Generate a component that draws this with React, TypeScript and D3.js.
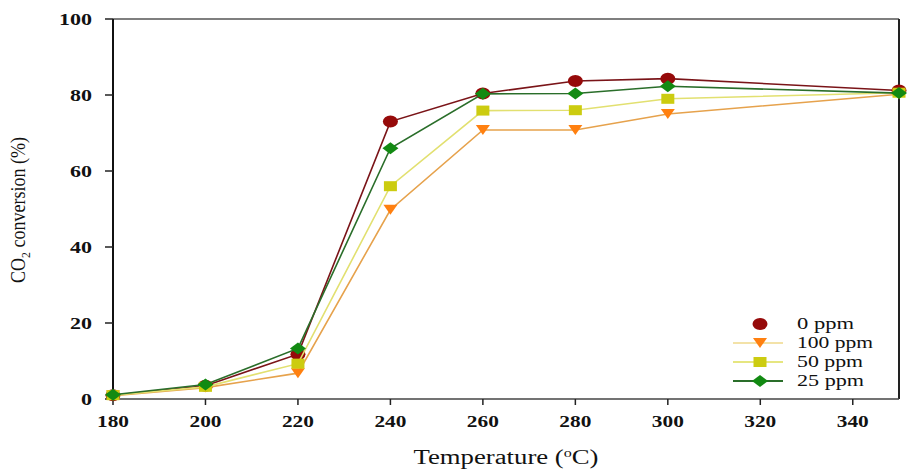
import React from "react";
import * as d3 from "d3";

const temps = [180, 200, 220, 240, 260, 280, 300, 350];
const seriesNames = ["0 ppm", "100 ppm", "50 ppm", "25 ppm"];
const ppm0 = [1, 3.5, 11.8, 73, 80.4, 83.7, 84.3, 81.2];
const ppm100 = [0.9, 3.0, 6.8, 49.8, 70.8, 70.8, 75, 80.2];
const ppm50 = [1, 3.2, 9.3, 56, 75.9, 76, 79, 80.6];
const ppm25 = [1.1, 3.8, 13.3, 66, 80.3, 80.4, 82.3, 80.5];
const xTicks = [180, 200, 220, 240, 260, 280, 300, 320, 340];
const yTicks = [0, 20, 40, 60, 80, 100];

const W = 916, H = 472;
const L = 113, R = 899, T = 19, B = 399;
const FONT = "'Liberation Serif', 'Times New Roman', Times, serif";

const styles = [
  { line: "#7a1418", fill: "#960a0a", shape: "circle", legendLine: null },
  { line: "#e6a24c", fill: "#ff8010", shape: "tri", legendLine: "#f3e2a8" },
  { line: "#e2e070", fill: "#cccc10", shape: "square", legendLine: "#e6e680" },
  { line: "#2a6e2a", fill: "#128a12", shape: "diamond", legendLine: "#2a6e2a" },
];

function Marker({ shape, x, y, fill }: { shape: string; x: number; y: number; fill: string }) {
  if (shape === "circle") return <ellipse cx={x} cy={y} rx={7.5} ry={6} fill={fill} />;
  if (shape === "square") return <rect x={x - 6.5} y={y - 5} width={13} height={10} fill={fill} />;
  if (shape === "tri")
    return <path d={`M${x - 7},${y - 5}L${x + 7},${y - 5}L${x},${y + 5}Z`} fill={fill} />;
  return <path d={`M${x},${y - 6}L${x + 8},${y}L${x},${y + 6}L${x - 8},${y}Z`} fill={fill} />;
}

export default function App() {
  const x = d3.scaleLinear().domain([180, 350]).range([L, R]);
  const y = d3.scaleLinear().domain([0, 100]).range([B, T]);
  const data = [ppm0, ppm100, ppm50, ppm25];
  const line = d3
    .line<number>()
    .x((_, i) => x(temps[i]))
    .y((d) => y(d));
  const legendYs = [324, 343, 362, 381];
  const legendLen = [57, 76, 66, 67];
  return (
    <svg width={W} height={H} style={{ position: "absolute", left: 0, top: 0, background: "#fff" }}>
      <rect x={0} y={0} width={W} height={H} fill="#fff" />
      <line x1={L} y1={T} x2={R} y2={T} stroke="#555" strokeWidth={1.5} />
      <line x1={R} y1={T} x2={R} y2={B} stroke="#222" strokeWidth={2} />
      <line x1={L} y1={B} x2={R} y2={B} stroke="#444" strokeWidth={1.5} />
      <line x1={L} y1={T} x2={L} y2={B} stroke="#111" strokeWidth={2} />
      {yTicks.map((t) => (
        <g key={"y" + t}>
          <line x1={L - 8} x2={L} y1={y(t)} y2={y(t)} stroke="#222" strokeWidth={1.5} />
          <text
            x={92}
            y={y(t) + 5.5}
            textAnchor="end"
            fontFamily={FONT}
            fontWeight="bold"
            fontSize={16}
            textLength={t === 100 ? 33 : t === 0 ? 11 : 22}
            lengthAdjust="spacingAndGlyphs"
            fill="#111"
          >
            {t}
          </text>
        </g>
      ))}
      {xTicks.map((t) => (
        <g key={"x" + t}>
          <line x1={x(t)} x2={x(t)} y1={B} y2={B + 6} stroke="#222" strokeWidth={1.5} />
          <text
            x={x(t)}
            y={427}
            textAnchor="middle"
            fontFamily={FONT}
            fontWeight="bold"
            fontSize={16}
            textLength={32}
            lengthAdjust="spacingAndGlyphs"
            fill="#111"
          >
            {t}
          </text>
        </g>
      ))}
      <text
        x={(L + R) / 2}
        y={464}
        textAnchor="middle"
        fontFamily={FONT}
        fontSize={20}
        textLength={185}
        lengthAdjust="spacingAndGlyphs"
        fill="#111"
      >
        Temperature (<tspan dy={-7} fontSize={12}>o</tspan>
        <tspan dy={7}>C)</tspan>
      </text>
      <text
        transform={`translate(25,${210}) rotate(-90)`}
        textAnchor="middle"
        fontFamily={FONT}
        fontSize={20}
        textLength={146}
        lengthAdjust="spacingAndGlyphs"
        fill="#111"
      >
        CO<tspan dy={5} fontSize={13}>2</tspan>
        <tspan dy={-5}> conversion (%)</tspan>
      </text>
      {data.map((vals, si) => (
        <g key={"s" + si}>
          <path d={line(vals) || ""} fill="none" stroke={styles[si].line} strokeWidth={1.6} />
          {vals.map((v, i) => (
            <Marker key={i} shape={styles[si].shape} x={x(temps[i])} y={y(v)} fill={styles[si].fill} />
          ))}
        </g>
      ))}
      {seriesNames.map((name, si) => (
        <g key={"l" + si}>
          {styles[si].legendLine && (
            <line x1={733} x2={783} y1={legendYs[si]} y2={legendYs[si]} stroke={styles[si].legendLine} strokeWidth={1.8} />
          )}
          <Marker shape={styles[si].shape} x={760} y={legendYs[si]} fill={styles[si].fill} />
          <text
            x={797}
            y={legendYs[si] + 5}
            fontFamily={FONT}
            fontSize={17}
            textLength={legendLen[si]}
            lengthAdjust="spacingAndGlyphs"
            fill="#111"
          >
            {name}
          </text>
        </g>
      ))}
    </svg>
  );
}
